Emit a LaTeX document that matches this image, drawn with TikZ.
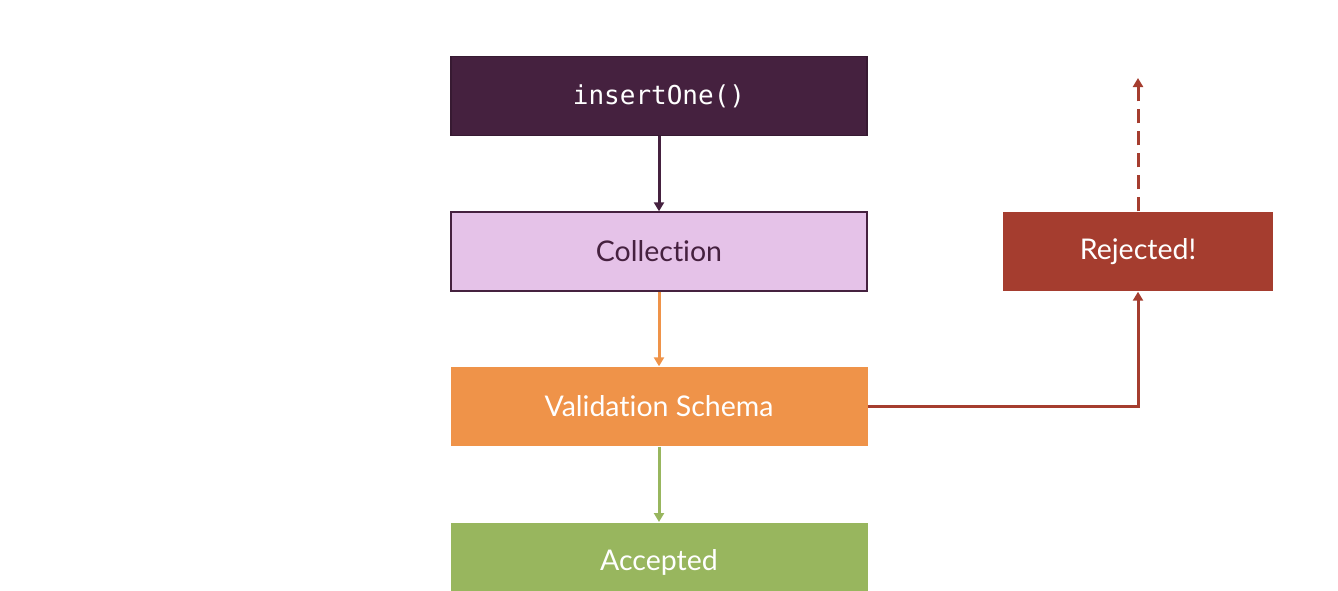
\documentclass[tikz,border=0pt]{standalone}
\usepackage{fontspec}
\setmainfont[Ligatures=NoCommon]{Lato}
\newfontfamily\codefont{DejaVu Sans Mono}
\usetikzlibrary{arrows.meta}
\definecolor{dpurple}{HTML}{45213F}
\definecolor{lpurple}{HTML}{E5C2E8}
\definecolor{vorange}{HTML}{EF9349}
\definecolor{agreen}{HTML}{98B65E}
\definecolor{rred}{HTML}{A53D2F}
\tikzset{
  box/.style={rectangle, minimum height=79pt, inner sep=0pt, font=\fontsize{28.5}{32}\selectfont, line width=1.4pt},
  conn/.style={line width=3pt, -{Triangle[length=9pt,width=10pt]}},
}
\begin{document}
\begin{tikzpicture}[x=1pt,y=-1pt]
\useasboundingbox (0,0) rectangle (1338,590);
\clip (0,0) rectangle (1338,590);
\node[box, minimum width=416pt, fill=dpurple, draw=dpurple!80!black, text=white] (ins) at (659,96) {\fontsize{26}{30}\selectfont\codefont insertOne()};
\node[box, minimum width=416pt, fill=lpurple, draw=dpurple, text=dpurple] (col) at (659,251.5) {Collection};
\node[box, minimum width=417pt, fill=vorange, text=white] (val) at (659,406.5) {Validation Schema};
\node[box, minimum width=417pt, fill=agreen, text=white, anchor=north] (acc) at (659,522) {\raisebox{-2pt}{Accepted}};
\node[box, minimum width=270pt, fill=rred, text=white] (rej) at (1138,251.5) {Rejected!};
\coordinate (up) at (1138,78);
\draw[conn, draw=dpurple] (ins.south) -- (col.north);
\draw[conn, draw=vorange] (col.south) -- (val.north);
\draw[conn, draw=agreen] (val.south) -- (acc.north);
\draw[conn, draw=rred] (val.east) -| (rej.south);
\draw[conn, draw=rred, dash pattern=on 14pt off 8pt] (rej.north) -- (up);
\end{tikzpicture}
\end{document}
